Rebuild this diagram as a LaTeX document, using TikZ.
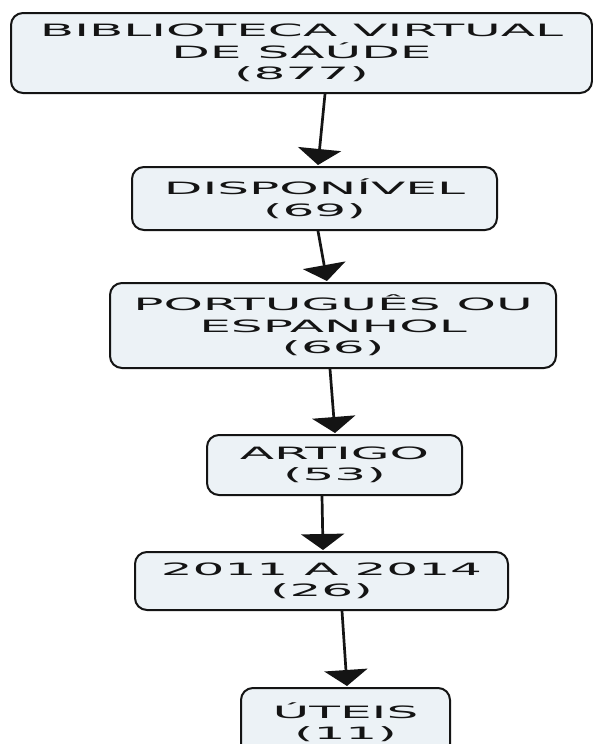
\documentclass[tikz,border=0pt]{standalone}
\usepackage{fontspec}
\newfontfamily\widefont[FakeStretch=2.95]{DejaVu Sans}
\usetikzlibrary{arrows.meta}
\definecolor{boxfill}{RGB}{236,242,246}
\definecolor{ink}{RGB}{20,20,20}
\begin{document}
\begin{tikzpicture}[x=1pt,y=-1pt,
  box/.style={draw=ink, line width=2pt, fill=boxfill, rounded corners=12pt,
    align=center, inner sep=0pt, text=ink,
    font=\widefont\fontsize{17}{21.5}\selectfont},
  flow/.style={draw=ink, line width=2.7pt, -{Triangle[width=43pt,length=16pt]}}]
\useasboundingbox (0,0) rectangle (593,744);
\fill[white] (0,0) rectangle (593,744);
\node[box, minimum width=581pt, minimum height=80pt] (b1) at (301.5,53) {BIBLIOTECA VIRTUAL\\DE SAÚDE\\(877)};
\node[box, minimum width=365pt, minimum height=63pt] (b2) at (314.5,198.5) {DISPONÍVEL\\(69)};
\node[box, minimum width=446pt, minimum height=85pt] (b3) at (333,325.5) {PORTUGUÊS OU\\ESPANHOL\\(66)};
\node[box, minimum width=255pt, minimum height=60pt] (b4) at (334.5,465) {ARTIGO\\(53)};
\node[box, minimum width=373pt, minimum height=58pt] (b5) at (321.5,581) {2011 A 2014\\(26)};
\node[box, minimum width=209pt, minimum height=68pt] (b6) at (345.5,722) {ÚTEIS\\(11)};
\draw[flow] ([xshift=23.5pt]b1.south) -- ([xshift=3.5pt,yshift=1pt]b2.north);
\draw[flow] ([xshift=3.5pt]b2.south) -- ([xshift=-6pt,yshift=1pt]b3.north);
\draw[flow] ([xshift=-3pt]b3.south) -- ([xshift=0.5pt,yshift=1pt]b4.north);
\draw[flow] ([xshift=-12.5pt]b4.south) -- ([xshift=1.5pt,yshift=1pt]b5.north);
\draw[flow] ([xshift=20.5pt]b5.south) -- ([xshift=1.5pt,yshift=1pt]b6.north);
\end{tikzpicture}
\end{document}
